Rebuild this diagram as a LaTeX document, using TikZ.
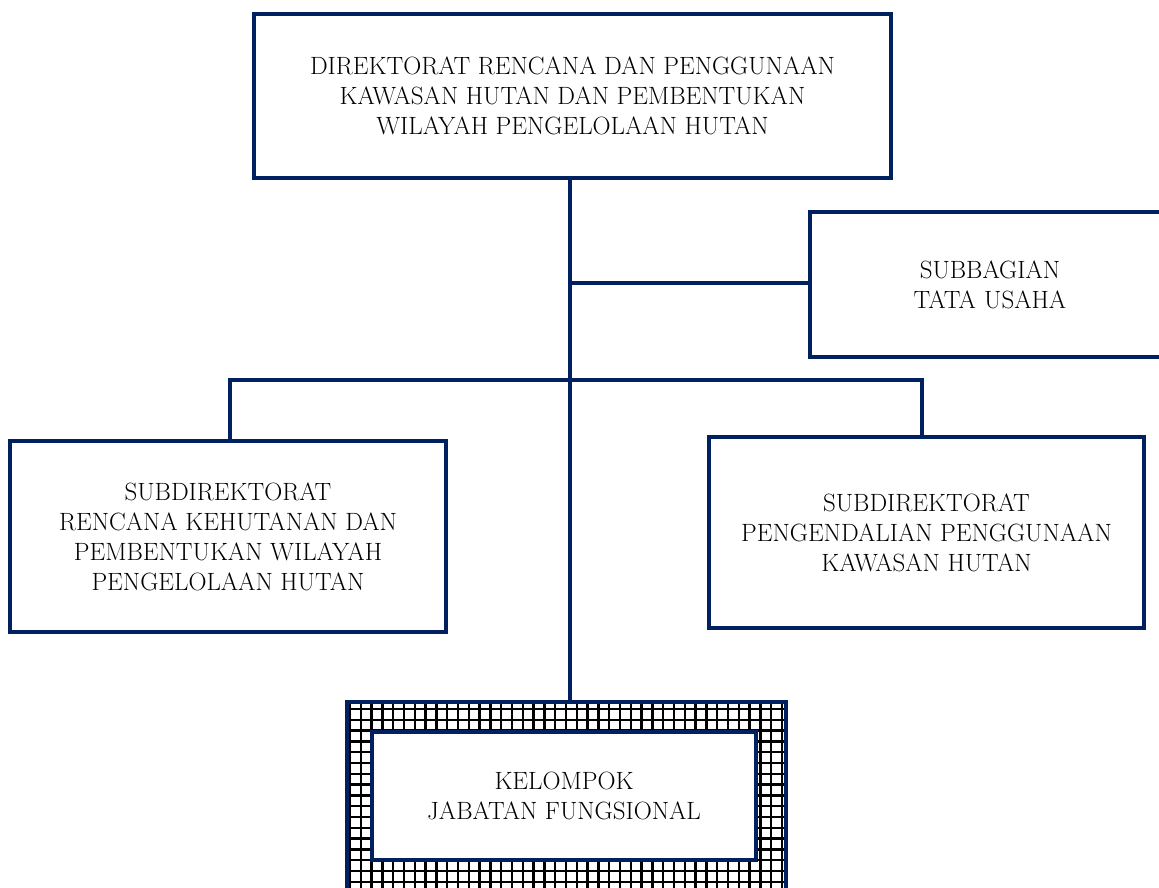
\documentclass[tikz,border=0pt]{standalone}
\usetikzlibrary{positioning}
\definecolor{navy}{RGB}{0,32,96}
\tikzset{
  orgbox/.style={draw=navy, line width=4pt, fill=white, align=center, inner sep=0pt,
    font=\fontsize{25}{30}\selectfont, text=black},
  conn/.style={draw=navy, line width=4pt},
  hatch/.style={black, line width=2.4pt},
}
\begin{document}
\begin{tikzpicture}[x=1pt,y=-1pt]
\useasboundingbox (0,0) rectangle (1159,887);
\clip (0,0) rectangle (1159,887);
\coordinate (bar) at (570,380);
\coordinate (branch) at (570,283);
% nodes
\node[orgbox, minimum width=637pt, minimum height=164pt] (top) at (572.5,96)
  {DIREKTORAT RENCANA DAN PENGGUNAAN\\KAWASAN HUTAN DAN PEMBENTUKAN\\WILAYAH PENGELOLAAN HUTAN};
\node[orgbox, minimum width=360pt, minimum height=145pt, text width=300pt] (tu) at (990,284.5)
  {SUBBAGIAN\\TATA USAHA};
\node[orgbox, minimum width=436pt, minimum height=191pt] (left) at (228,536.5)
  {SUBDIREKTORAT\\RENCANA KEHUTANAN DAN\\PEMBENTUKAN WILAYAH\\PENGELOLAAN HUTAN};
\node[orgbox, minimum width=435pt, minimum height=191pt] (right) at (926.5,532.5)
  {SUBDIREKTORAT\\PENGENDALIAN PENGGUNAAN\\KAWASAN HUTAN};
% hatched outer box
\node[draw=none, fill=white, minimum width=439pt, minimum height=200pt, inner sep=0pt] (outer) at (566.5,802) {};
\begin{scope}
  \clip (outer.north west) rectangle (outer.south east);
  \foreach \i in {0,...,41} {
    \draw[hatch] (350+\i*10.8,702) -- (350+\i*10.8,905);
  }
  \foreach \j in {0,...,18} {
    \draw[hatch] (347,709+\j*10.8) -- (786,709+\j*10.8);
  }
\end{scope}
\draw[navy, line width=4pt] (outer.south west) -- (outer.north west) -- (outer.north east) -- (outer.south east);
\node[orgbox, minimum width=384pt, minimum height=128pt] (kjf) at (564,796)
  {KELOMPOK\\JABATAN FUNGSIONAL};
% connectors
\draw[conn] (top.south -| bar) -- (bar |- outer.north);
\draw[conn] (branch) -- (tu.west |- branch);
\draw[conn] (left.north -| 230,0) |- (bar) -| (right.north -| 922,0);
\end{tikzpicture}
\end{document}
